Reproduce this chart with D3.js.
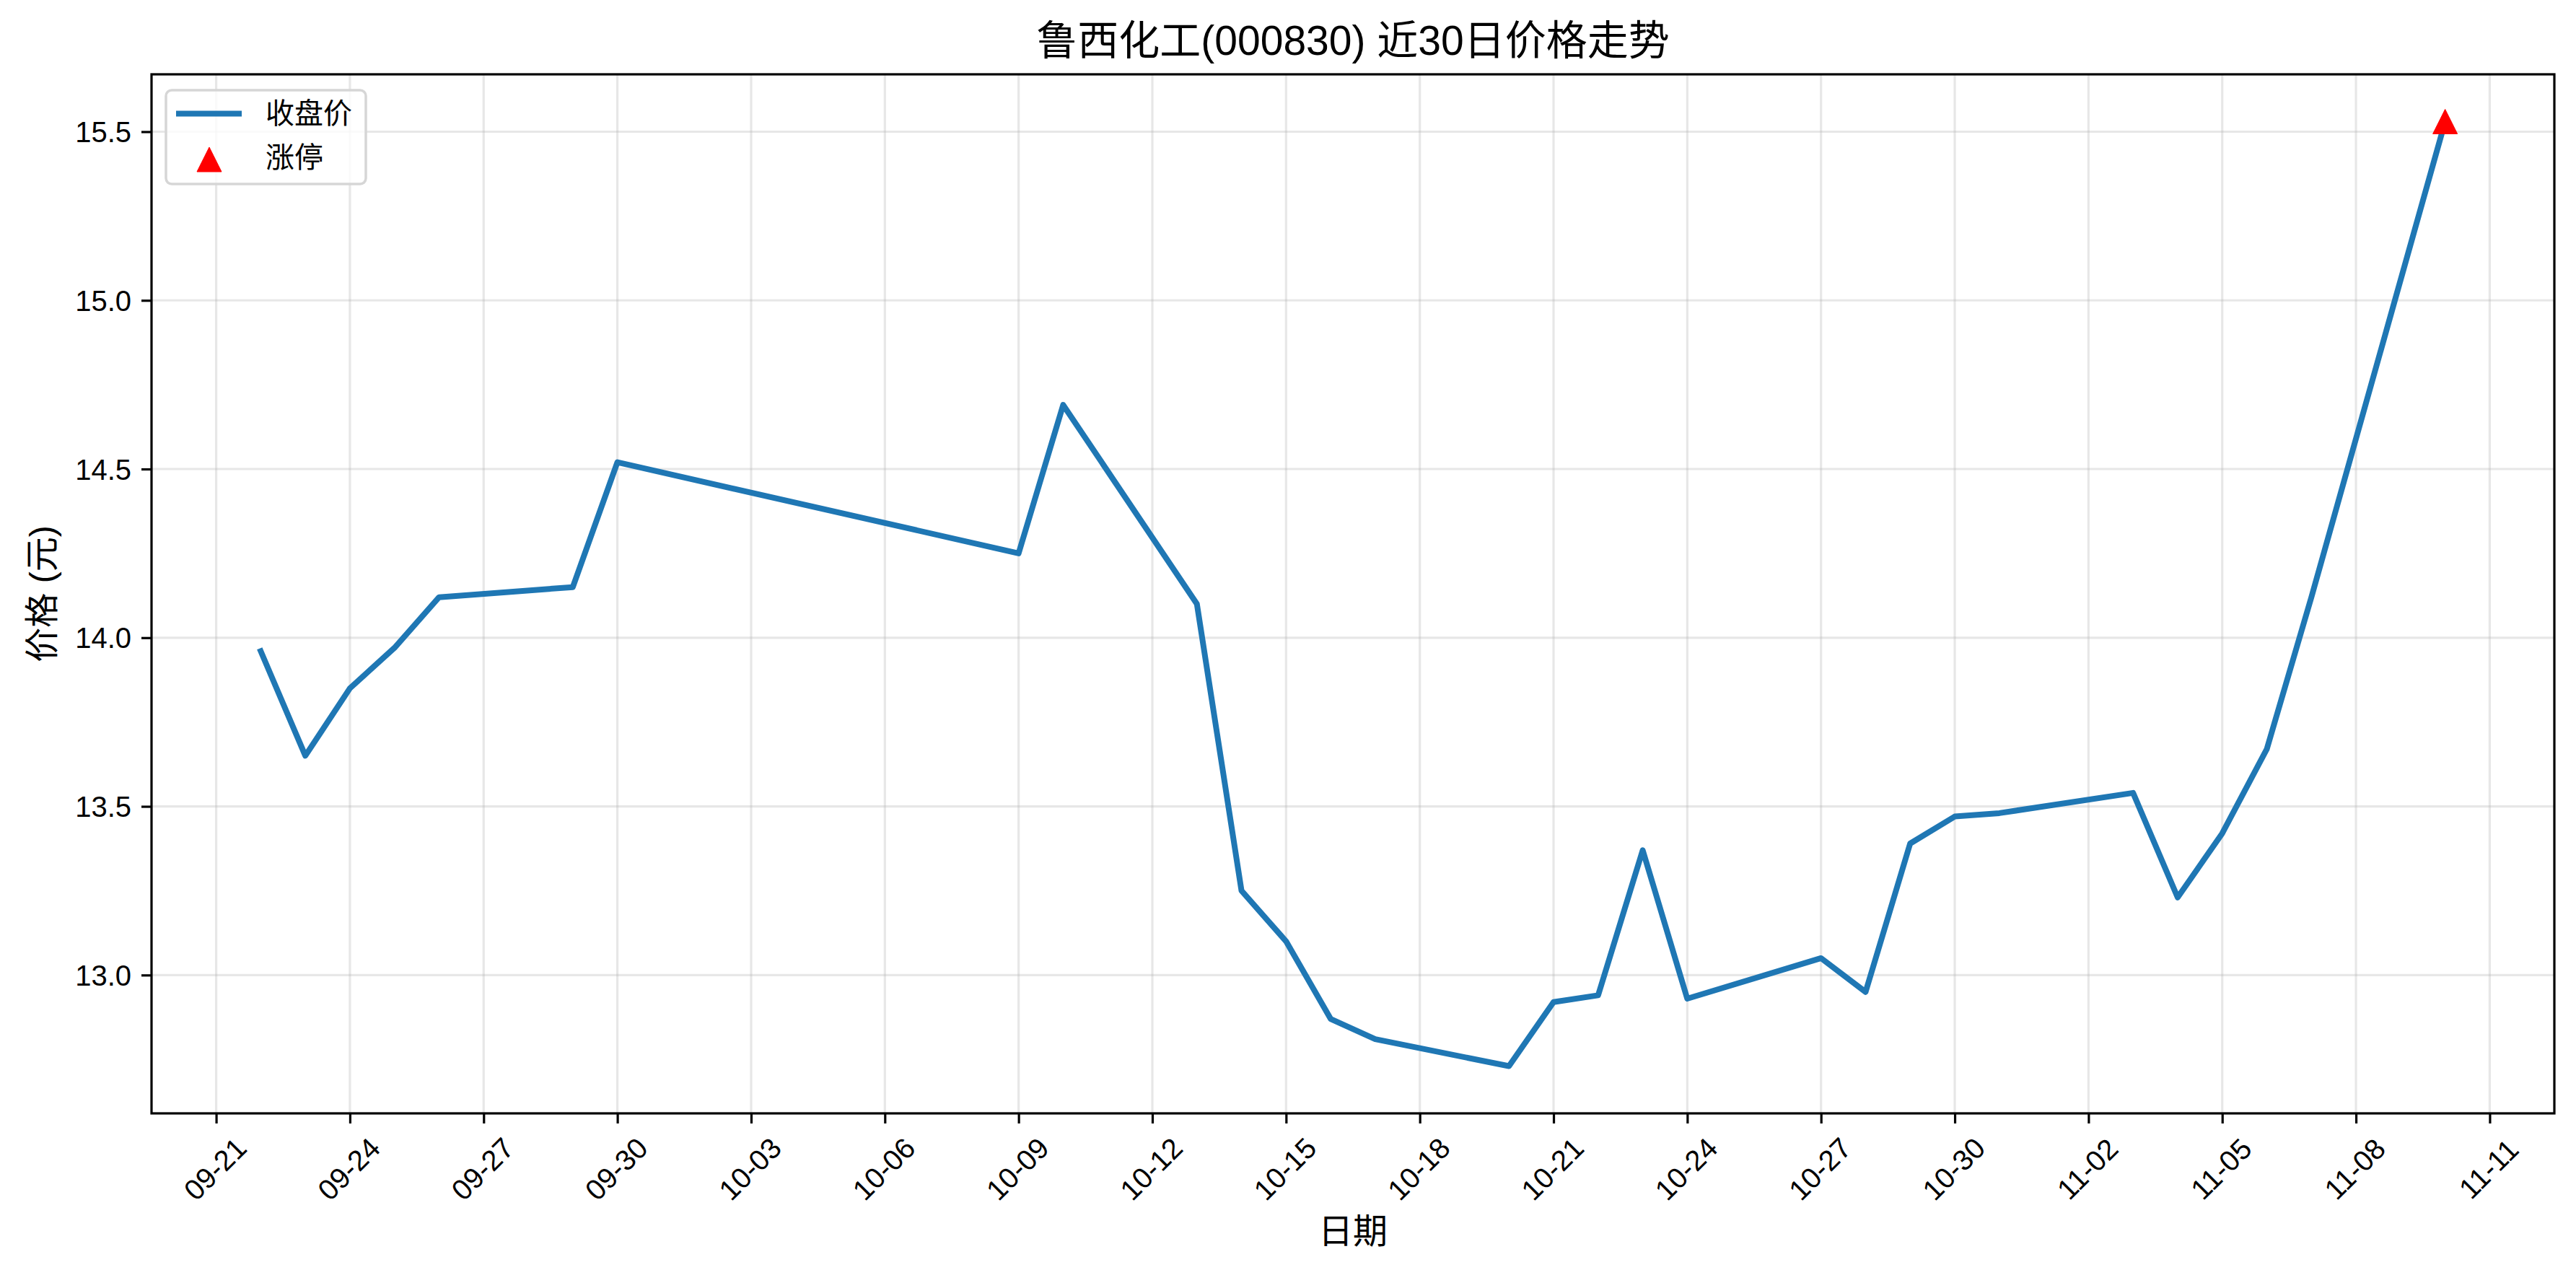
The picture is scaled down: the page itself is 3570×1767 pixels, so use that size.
<!DOCTYPE html>
<html>
<head>
<meta charset="utf-8">
<script src="https://cdn.jsdelivr.net/npm/d3@7"></script>
<style>
  html, body { margin: 0; padding: 0; background: #ffffff; }
  svg { display: block; }
  text { font-family: "Liberation Sans", "Noto Sans CJK SC", sans-serif; fill: #000; }
</style>
</head>
<body>
<svg id="chart" width="3570" height="1767"></svg>
<script>
// ---------------- data ----------------
const titleText = "鲁西化工(000830) 近30日价格走势";
const xLabelText = "日期";
const yLabelText = "价格 (元)";
const seriesName = "收盘价";
const limitUpName = "涨停";

const dates = ["2025-09-22","2025-09-23","2025-09-24","2025-09-25","2025-09-26",
  "2025-09-29","2025-09-30","2025-10-09","2025-10-10","2025-10-13",
  "2025-10-14","2025-10-15","2025-10-16","2025-10-17","2025-10-20",
  "2025-10-21","2025-10-22","2025-10-23","2025-10-24","2025-10-27",
  "2025-10-28","2025-10-29","2025-10-30","2025-10-31","2025-11-03",
  "2025-11-04","2025-11-05","2025-11-06","2025-11-07","2025-11-10"];
const closes = [13.96,13.65,13.85,13.97,14.12,
  14.15,14.52,14.25,14.69,14.10,
  13.25,13.10,12.87,12.81,12.73,
  12.92,12.94,13.37,12.93,13.05,
  12.95,13.39,13.47,13.48,13.54,
  13.23,13.42,13.67,14.12,15.53];

const limitUpDates = ["2025-11-10"];
const limitUpValues = [15.53];

const xTickDates = ["2025-09-21","2025-09-24","2025-09-27","2025-09-30","2025-10-03",
  "2025-10-06","2025-10-09","2025-10-12","2025-10-15","2025-10-18","2025-10-21",
  "2025-10-24","2025-10-27","2025-10-30","2025-11-02","2025-11-05","2025-11-08","2025-11-11"];
const yTickValues = [13.0, 13.5, 14.0, 14.5, 15.0, 15.5];

// ---------------- layout ----------------
const W = 3570, H = 1767;
const plot = { left: 210, right: 3540, top: 103, bottom: 1543 };
const lineColor = "#1f77b4";
const tickFont = 40, labelFont = 48, titleFont = 57;
const tickLen = 14, tickPad = 14, spineW = 3.2;

const parse = d3.utcParse("%Y-%m-%d");
const data = dates.map((d, i) => ({ date: parse(d), close: closes[i] }));
const limitUps = limitUpDates.map((d, i) => ({ date: parse(d), close: limitUpValues[i] }));
const tickDates = xTickDates.map(parse);

// matplotlib-like 5% margins
const xExt = d3.extent(data, d => d.date);
const xSpan = xExt[1] - xExt[0];
const yExt = d3.extent(data, d => d.close);
const ySpan = yExt[1] - yExt[0];

const x = d3.scaleUtc()
  .domain([new Date(+xExt[0] - 0.05 * xSpan), new Date(+xExt[1] + 0.05 * xSpan)])
  .range([plot.left, plot.right]);
const y = d3.scaleLinear()
  .domain([yExt[0] - 0.05 * ySpan, yExt[1] + 0.05 * ySpan])
  .range([plot.bottom, plot.top]);

const svg = d3.select("#chart");
svg.append("rect").attr("width", W).attr("height", H).attr("fill", "#fff");

// ---------------- grid ----------------
const grid = svg.append("g").attr("class", "grid");
grid.selectAll("line.v").data(tickDates).join("line")
  .attr("class", "v")
  .attr("x1", d => x(d)).attr("x2", d => x(d))
  .attr("y1", plot.top).attr("y2", plot.bottom)
  .attr("stroke", "#b0b0b0").attr("stroke-opacity", 0.3).attr("stroke-width", 3.2);
grid.selectAll("line.h").data(yTickValues).join("line")
  .attr("class", "h")
  .attr("y1", d => y(d)).attr("y2", d => y(d))
  .attr("x1", plot.left).attr("x2", plot.right)
  .attr("stroke", "#b0b0b0").attr("stroke-opacity", 0.3).attr("stroke-width", 3.2);

// ---------------- line ----------------
const line = d3.line().x(d => x(d.date)).y(d => y(d.close));
svg.append("path").datum(data)
  .attr("d", line)
  .attr("fill", "none")
  .attr("stroke", lineColor)
  .attr("stroke-width", 8)
  .attr("stroke-linejoin", "round")
  .attr("stroke-linecap", "square");

// ---------------- limit-up markers ----------------
const tri = d3.symbol().type(d3.symbolTriangle);
const triSize = 34;
function triPath(s) {
  const h = s / 2;
  return `M0,${-h}L${h},${h}L${-h},${h}Z`;
}
svg.selectAll("path.limit").data(limitUps).join("path")
  .attr("class", "limit")
  .attr("d", triPath(triSize))
  .attr("transform", d => `translate(${x(d.date)},${y(d.close)})`)
  .attr("fill", "#ff0000")
  .attr("stroke", "#ff0000").attr("stroke-width", 1).attr("stroke-linejoin", "round");

// ---------------- axes ----------------
const xAxis = d3.axisBottom(x)
  .tickValues(tickDates)
  .tickFormat(d3.utcFormat("%m-%d"))
  .tickSizeInner(tickLen).tickSizeOuter(0).tickPadding(tickPad);
const gx = svg.append("g").attr("transform", `translate(0,${plot.bottom})`).call(xAxis);
gx.select(".domain").remove();
gx.selectAll(".tick line").attr("stroke", "#000").attr("stroke-width", spineW);
gx.selectAll(".tick text")
  .attr("font-size", tickFont)
  .attr("font-family", '"Liberation Sans", "Noto Sans CJK SC", sans-serif')
  .attr("text-anchor", "middle")
  .attr("dy", null)
  .attr("y", null)
  .attr("dominant-baseline", "central")
  .attr("transform", "translate(-2,77) rotate(-45)");

const yAxis = d3.axisLeft(y)
  .tickValues(yTickValues)
  .tickFormat(d3.format(".1f"))
  .tickSizeInner(tickLen).tickSizeOuter(0).tickPadding(tickPad);
const gy = svg.append("g").attr("transform", `translate(${plot.left},0)`).call(yAxis);
gy.select(".domain").remove();
gy.selectAll(".tick line").attr("stroke", "#000").attr("stroke-width", spineW);
gy.selectAll(".tick text")
  .attr("font-size", tickFont)
  .attr("font-family", '"Liberation Sans", "Noto Sans CJK SC", sans-serif')
  .attr("dy", null)
  .attr("dominant-baseline", "central");

// ---------------- spines ----------------
svg.append("rect")
  .attr("x", plot.left).attr("y", plot.top)
  .attr("width", plot.right - plot.left).attr("height", plot.bottom - plot.top)
  .attr("fill", "none").attr("stroke", "#000").attr("stroke-width", spineW);

// ---------------- labels ----------------
svg.append("text")
  .attr("x", (plot.left + plot.right) / 2).attr("y", 56)
  .attr("text-anchor", "middle").attr("dominant-baseline", "central")
  .attr("font-size", titleFont)
  .text(titleText);

svg.append("text")
  .attr("x", (plot.left + plot.right) / 2).attr("y", 1706)
  .attr("text-anchor", "middle").attr("dominant-baseline", "central")
  .attr("font-size", labelFont)
  .text(xLabelText);

svg.append("text")
  .attr("transform", `translate(58,${(plot.top + plot.bottom) / 2}) rotate(-90)`)
  .attr("text-anchor", "middle").attr("dominant-baseline", "central")
  .attr("font-size", labelFont)
  .text(yLabelText);

// ---------------- legend ----------------
const lg = svg.append("g");
lg.append("rect")
  .attr("x", 230).attr("y", 125).attr("width", 277).attr("height", 130)
  .attr("rx", 8).attr("ry", 8)
  .attr("fill", "#fff").attr("fill-opacity", 0.8)
  .attr("stroke", "#d6d6d6").attr("stroke-width", 3.5);
lg.append("line")
  .attr("x1", 244).attr("x2", 335).attr("y1", 157.5).attr("y2", 157.5)
  .attr("stroke", lineColor).attr("stroke-width", 8);
lg.append("path")
  .attr("d", triPath(triSize))
  .attr("transform", "translate(290,221)")
  .attr("fill", "#ff0000").attr("stroke", "#ff0000").attr("stroke-width", 1);
lg.append("text").attr("x", 368).attr("y", 157)
  .attr("dominant-baseline", "central").attr("font-size", tickFont).text(seriesName);
lg.append("text").attr("x", 368).attr("y", 218)
  .attr("dominant-baseline", "central").attr("font-size", tickFont).text(limitUpName);
</script>
</body>
</html>
